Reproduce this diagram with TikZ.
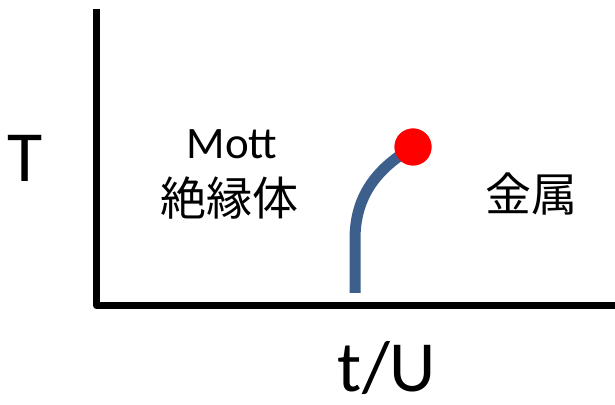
\documentclass[tikz,border=0pt]{standalone}
\usepackage{fontspec}
\setmainfont{Carlito}
\newfontfamily\cjk{Noto Sans CJK JP}
\definecolor{lineblue}{RGB}{60,95,140}
\begin{document}
\begin{tikzpicture}[x=1pt,y=1pt,
  axis/.style={line width=7pt,line join=round},
  lbl/.style={inner sep=0pt,font=\fontsize{45}{52}\selectfont},
  big/.style={inner sep=0pt,font=\fontsize{72}{80}\selectfont},
  jp/.style={inner sep=0pt,font=\cjk\fontsize{46}{54}\selectfont}]
\useasboundingbox (0,0) rectangle (615,404);
\coordinate (top) at (96.5,395);
\coordinate (orig) at (96.5,98.5);
\coordinate (right) at (615,98.5);
\draw[axis] (top) -- (orig) -- (right);
\node[big] (T) at (25.5,246) {T};
\node[big] (tU) at (387,35.5) {t/U};
\node[lbl,anchor=base] (mott) at (232,245) {Mott};
\node[jp] (ins) at (229,205.5) {絶縁体};
\node[jp] (met) at (531,210) {金属};
\coordinate (cb) at (355,111);
\coordinate (cm) at (355,165);
\node[circle,fill=red,minimum size=37pt,inner sep=0pt] (cp) at (413,257) {};
\draw[lineblue,line width=11pt] (cb) -- (cm) .. controls (355,215) and (385,240) .. (cp.center);
\node[circle,fill=red,minimum size=37pt,inner sep=0pt] at (cp) {};
\end{tikzpicture}
\end{document}
